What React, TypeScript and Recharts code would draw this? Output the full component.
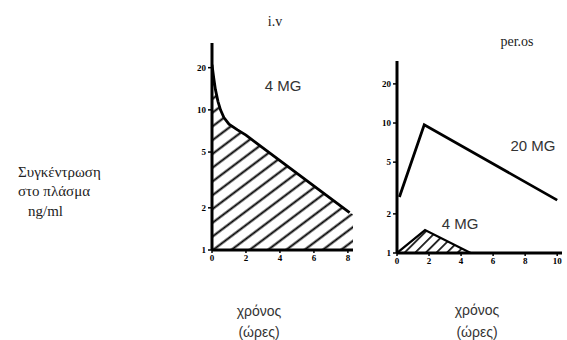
import { ComposedChart, Area, Line, XAxis, YAxis } from "recharts"

// i.v, 4 MG (hours, ng/ml)
const ivCurve = [
  { t: 0, c: 21 },
  { t: 0.1, c: 17 },
  { t: 0.2, c: 14 },
  { t: 0.35, c: 11.5 },
  { t: 0.5, c: 10 },
  { t: 0.7, c: 8.8 },
  { t: 1, c: 7.9 },
  { t: 1.5, c: 7.2 },
  { t: 2, c: 6.6 },
  { t: 8.1, c: 1.85 },
]
const ivHatch = [...ivCurve, { t: 8.3, c: 1.8 }]

// per.os
const oral20 = [
  { t: 0.15, c: 2.7 },
  { t: 1.7, c: 9.7 },
  { t: 10, c: 2.55 },
]
const oral4 = [
  { t: 0, c: 1 },
  { t: 1.75, c: 1.5 },
  { t: 4.6, c: 1 },
  { t: 10, c: 1 },
]
const oral4Hatch = [
  { t: 0, c: 1 },
  { t: 1.75, c: 1.5 },
  { t: 4.6, c: 1 },
]

const yTicks = [1, 2, 5, 10, 20]
const ivXTicks = [0, 2, 4, 6, 8]
const oralXTicks = [0, 2, 4, 6, 8, 10]

const tickStyle = { fill: "#000", fontSize: 9, fontWeight: "bold", fontFamily: "'Liberation Serif', serif" }
const axisLine = { stroke: "#000", strokeWidth: 3 }
const tickLine = { stroke: "#000", strokeWidth: 1.5 }

const serif = "'Liberation Serif', serif"
const sans = "'Liberation Sans', Arial, sans-serif"

function Txt({ x, y, children, font, size, color = "#222", align = "center" }: any) {
  return (
    <div
      style={{
        position: "absolute",
        left: x,
        top: y,
        transform: align === "center" ? "translate(-50%, -50%)" : "translate(0, -50%)",
        fontFamily: font,
        fontSize: size,
        color,
        whiteSpace: "nowrap",
        lineHeight: 1,
      }}
    >
      {children}
    </div>
  )
}

export default function App() {
  return (
    <div style={{ position: "relative", width: 567, height: 340, background: "#fff", overflow: "hidden" }}>
      <style>{"body{margin:0}"}</style>
      <svg width={0} height={0} style={{ position: "absolute" }}>
        <defs>
          <pattern id="hatchIv" width={10} height={11} patternUnits="userSpaceOnUse" patternTransform="rotate(-37)">
            <line x1={0} y1={5.5} x2={10} y2={5.5} stroke="#000" strokeWidth={2} />
          </pattern>
          <pattern id="hatchOral" width={10} height={7.5} patternUnits="userSpaceOnUse" patternTransform="rotate(-45)">
            <line x1={0} y1={3.7} x2={10} y2={3.7} stroke="#000" strokeWidth={1.6} />
          </pattern>
        </defs>
      </svg>

      <div style={{ position: "absolute", left: 170, top: 0 }}>
        <ComposedChart width={193} height={275} margin={{ top: 43, right: 10, left: 10, bottom: 5 }}>
          <XAxis
            type="number"
            dataKey="t"
            domain={[0, 8.3]}
            ticks={ivXTicks}
            allowDataOverflow
            axisLine={axisLine}
            tickLine={tickLine}
            tickSize={3}
            tick={tickStyle}
            height={20}
          />
          <YAxis
            type="number"
            dataKey="c"
            scale="log"
            domain={[1, 30]}
            ticks={yTicks}
            allowDataOverflow
            axisLine={axisLine}
            tickLine={tickLine}
            tickSize={4}
            tick={tickStyle}
            width={32}
            interval={0}
          />
          <Area
            data={ivHatch}
            dataKey="c"
            type="linear"
            baseValue={1}
            stroke="none"
            fill="url(#hatchIv)"
            fillOpacity={1}
            isAnimationActive={false}
          />
          <Line data={ivCurve} dataKey="c" type="linear" stroke="#000" strokeWidth={2.8} dot={false} isAnimationActive={false} />
        </ComposedChart>
      </div>

      <div style={{ position: "absolute", left: 355, top: 0 }}>
        <ComposedChart width={217} height={278} margin={{ top: 61, right: 10, left: 10, bottom: 5 }}>
          <XAxis
            type="number"
            dataKey="t"
            domain={[0, 10.3]}
            ticks={oralXTicks}
            allowDataOverflow
            axisLine={axisLine}
            tickLine={tickLine}
            tickSize={3}
            tick={tickStyle}
            height={20}
          />
          <YAxis
            type="number"
            dataKey="c"
            scale="log"
            domain={[1, 30]}
            ticks={yTicks}
            allowDataOverflow
            axisLine={axisLine}
            tickLine={tickLine}
            tickSize={4}
            tick={tickStyle}
            width={32}
            interval={0}
          />
          <Area
            data={oral4Hatch}
            dataKey="c"
            type="linear"
            baseValue={1}
            stroke="none"
            fill="url(#hatchOral)"
            fillOpacity={1}
            isAnimationActive={false}
          />
          <Line data={oral4} dataKey="c" type="linear" stroke="#000" strokeWidth={2.2} dot={false} isAnimationActive={false} />
          <Line data={oral20} dataKey="c" type="linear" stroke="#000" strokeWidth={2.8} dot={false} isAnimationActive={false} />
        </ComposedChart>
      </div>

      <Txt x={275} y={22} font={serif} size={14}>i.v</Txt>
      <Txt x={517} y={42} font={serif} size={14}>per.os</Txt>
      <Txt x={283} y={85} font={sans} size={15} color="#333">4 MG</Txt>
      <Txt x={533} y={145} font={sans} size={15} color="#333">20 MG</Txt>
      <Txt x={460} y={223} font={sans} size={15} color="#333">4 MG</Txt>

      <Txt x={18} y={172} font={serif} size={15} align="left">Συγκέντρωση</Txt>
      <Txt x={18} y={191} font={serif} size={15} align="left">στο πλάσμα</Txt>
      <Txt x={28} y={211} font={serif} size={15} align="left">ng/ml</Txt>

      <Txt x={259} y={311} font={sans} size={14} color="#333">χρόνος</Txt>
      <Txt x={259} y={332} font={sans} size={14} color="#333">(ώρες)</Txt>
      <Txt x={477} y={310} font={sans} size={14} color="#333">χρόνος</Txt>
      <Txt x={477} y={332} font={sans} size={14} color="#333">(ώρες)</Txt>
    </div>
  )
}
